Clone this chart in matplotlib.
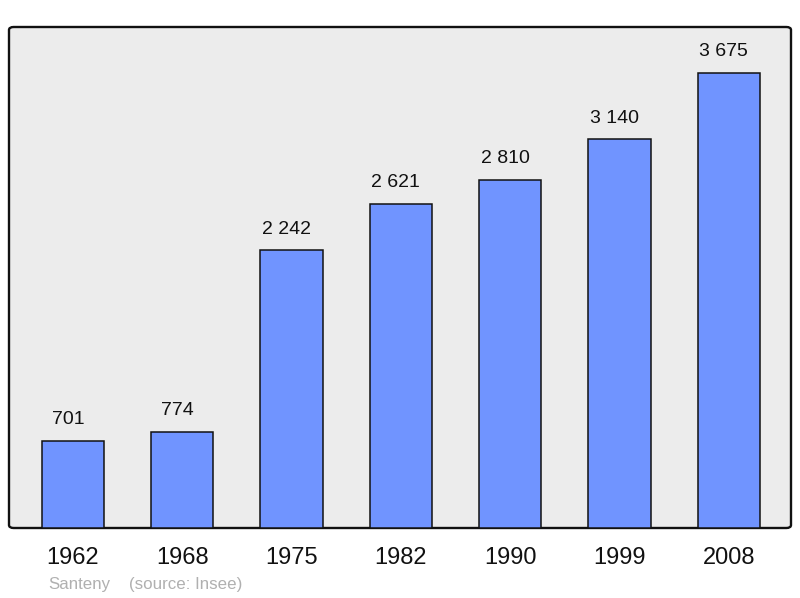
import matplotlib.pyplot as plt
from matplotlib.patches import FancyBboxPatch

plt.rcParams['font.family'] = ['Liberation Sans', 'DejaVu Sans']

years = ['1962', '1968', '1975', '1982', '1990', '1999', '2008']
population = [701, 774, 2242, 2621, 2810, 3140, 3675]
value_labels = ['701', '774', '2 242', '2 621', '2 810', '3 140', '3 675']

fig = plt.figure(figsize=(8, 5.98), dpi=100)
ax = fig.add_axes([9/800, 70/598, 782/800, 501/598])
ax.set_facecolor('none')

# rounded grey frame
frame = FancyBboxPatch((0, 0), 1, 1, boxstyle='round,pad=0,rounding_size=0.006',
                       transform=ax.transAxes, facecolor='#ececec',
                       edgecolor='#111111', linewidth=1.7, zorder=0, clip_on=False)
ax.add_patch(frame)

x = list(range(len(years)))
ax.bar(x, population, width=0.57, color='#7094ff', edgecolor='#111111',
       linewidth=1.1, zorder=2)

for xi, v, lab in zip(x, population, value_labels):
    ax.annotate(lab, (xi, v), xytext=(-3.6, 15.3), textcoords='offset points',
                ha='center', va='center', fontsize=14, color='#111111')

ax.set_xlim(-0.585, 6.57)
ax.set_ylim(0, 4047)
for s in ax.spines.values():
    s.set_visible(False)
ax.set_xticks(x)
ax.set_xticklabels(years, fontsize=17, color='#111111')
ax.tick_params(axis='x', length=0, pad=14)
ax.set_yticks([])

fig.text(48/800, 1 - 585/598, 'Santeny', fontsize=12.2, color='#b0b0b0', va='center')
fig.text(129/800, 1 - 585/598, '(source: Insee)', fontsize=12.2, color='#b0b0b0', va='center')

fig.savefig('out.png', dpi=100)
